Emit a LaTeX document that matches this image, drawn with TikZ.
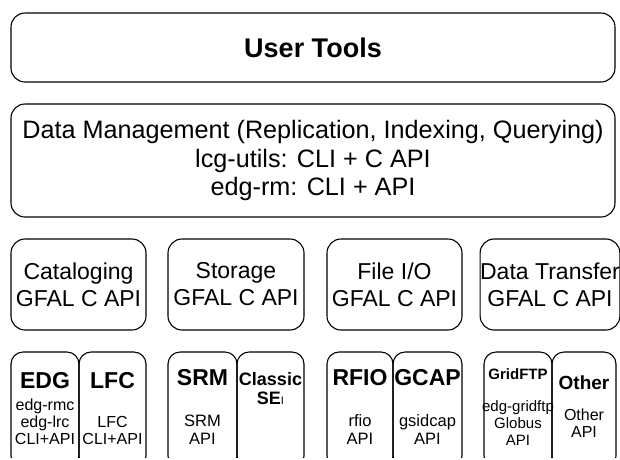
\documentclass[tikz,border=0pt]{standalone}
\usepackage{fontspec}
\setmainfont{Liberation Sans}
\tikzset{
  frame/.style={draw=black, line width=1.1pt, rounded corners=14pt, inner sep=0pt, align=center},
  halfbox/.style={draw=black, line width=1.1pt, rounded corners=12pt, inner sep=0pt,
    minimum height=116pt},
  midbox/.style={frame, minimum height=91pt, font=\fontsize{23}{27}\selectfont},
  ttl/.style={anchor=base, inner sep=0pt, font=\bfseries\fontsize{23}{25}\selectfont},
  lbl/.style={anchor=base, inner sep=0pt},
  sm/.style={lbl, font=\fontsize{16}{16}\selectfont},
  md/.style={lbl, font=\fontsize{16.5}{16.5}\selectfont},
}
\begin{document}
\begin{tikzpicture}[x=1pt,y=-1pt]
\useasboundingbox (0,0) rectangle (620,459);

% top boxes
\node[frame, minimum width=604pt, minimum height=69pt,
  font=\bfseries\fontsize{27}{30}\selectfont] (user) at (313,47.5) {User Tools};
\node[frame, minimum width=604pt, minimum height=113pt,
  font=\fontsize{25.2}{28.5}\selectfont] (dm) at (313,160.5)
  {Data Management (Replication, Indexing, Querying)\\lcg-utils: CLI + C API\\edg-rm: CLI + API};

% middle row
\node[midbox, minimum width=135pt] (cat) at (78.5,284.5) {Cataloging\\GFAL C API};
\node[midbox, minimum width=136pt] (sto) at (236,284.5) {Storage\\GFAL C API};
\node[midbox, minimum width=135pt] (fio) at (394.5,284.5) {File I/O\\GFAL C API};
\node[midbox, minimum width=132pt] (dtr) at (550,284.5) {Data Transfer\\GFAL C API};

% bottom row (boxes run off the lower edge)
\begin{scope}
\clip (0,0) rectangle (620,457);
\node[halfbox, minimum width=68pt] (edg) at (45,410) {};
\node[halfbox, minimum width=67pt] (lfc) at (112.5,410) {};
\node[halfbox, minimum width=69pt] (srm) at (202.5,410) {};
\node[halfbox, minimum width=67pt] (cse) at (270.5,410) {};
\node[halfbox, minimum width=66pt] (rfio) at (360,410) {};
\node[halfbox, minimum width=69pt] (gcap) at (427.5,410) {};
\node[halfbox, minimum width=68pt] (gftp) at (518,410) {};
\node[halfbox, minimum width=64pt] (oth) at (584,410) {};
\end{scope}

% EDG
\node[ttl] (tedg) at (45,388) {EDG};
\node[sm] (edg1) at (45,410) {edg-rmc};
\node[sm] (edg2) at (45,427) {edg-lrc};
\node[sm] (edg3) at (45,444) {CLI+API};
% LFC
\node[ttl] (tlfc) at (112.5,388) {LFC};
\node[sm] (lfc1) at (112.5,427) {LFC};
\node[sm] (lfc2) at (112.5,444) {CLI+API};
% SRM
\node[ttl] (tsrm) at (202.5,385) {SRM};
\node[md] (srm1) at (202.5,426) {SRM};
\node[md] (srm2) at (202.5,444) {API};
% Classic SE
\node[lbl, font=\bfseries\fontsize{18}{18}\selectfont] (tcse) at (270.5,385) {Classic};
\node[lbl, font=\bfseries\fontsize{18}{18}\selectfont] (tse) at (270.5,404)
  {SE{\mdseries\fontsize{11}{11}\selectfont I}};
% RFIO
\node[ttl] (trfio) at (360,385) {RFIO};
\node[md] (rfio1) at (360,426) {rfio};
\node[md] (rfio2) at (360,444) {API};
% GCAP
\node[ttl] (tgcap) at (427.5,385) {GCAP};
\node[md] (gcap1) at (427.5,426) {gsidcap};
\node[md] (gcap2) at (427.5,444) {API};
% GridFTP
\node[lbl, font=\bfseries\fontsize{15}{15}\selectfont] (tgftp) at (518,379) {GridFTP};
\node[lbl, font=\fontsize{15}{15}\selectfont] (gftp1) at (518,411) {edg-gridftp};
\node[lbl, font=\fontsize{15}{15}\selectfont] (gftp2) at (518,428) {Globus};
\node[lbl, font=\fontsize{15}{15}\selectfont] (gftp3) at (518,445) {API};
% Other
\node[lbl, font=\bfseries\fontsize{19}{19}\selectfont] (toth) at (584,389) {Other};
\node[sm] (oth1) at (584,420) {Other};
\node[sm] (oth2) at (584,437) {API};
\end{tikzpicture}
\end{document}
